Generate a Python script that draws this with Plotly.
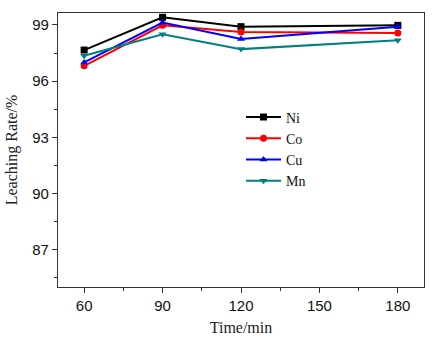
import plotly.graph_objects as go

time_min = [60, 90, 120, 180]
ni = [97.66, 99.41, 98.91, 98.98]
co = [96.82, 98.98, 98.62, 98.57]
cu = [97.00, 99.13, 98.25, 98.91]
mn = [97.36, 98.50, 97.71, 98.18]

series = [
    ("Ni", ni, "#000000", "square"),
    ("Co", co, "#ff0000", "circle"),
    ("Cu", cu, "#0000ff", "triangle-up"),
    ("Mn", mn, "#008080", "triangle-down"),
]

SANS = "Arial"
SERIF = "Times New Roman"

fig = go.Figure()
for name, vals, color, sym in series:
    fig.add_trace(go.Scatter(
        x=time_min, y=vals, name=name, mode="lines+markers",
        line=dict(color=color, width=2),
        marker=dict(symbol=sym, size=7, color=color),
    ))

axis_common = dict(
    showline=True, linecolor="#333333", linewidth=1.2, mirror=True,
    ticks="outside", ticklen=5, tickcolor="#333333", showgrid=False, zeroline=False,
    tickfont=dict(family=SANS, size=15, color="#111111"),
    minor=dict(ticks="outside", ticklen=3, tickcolor="#333333"),
)

fig.update_xaxes(range=[50, 190], tickvals=[60, 90, 120, 150, 180],
                 minor_dtick=15,
                 title=dict(text="Time/min", font=dict(family=SERIF, size=16, color="#222222"), standoff=8),
                 **axis_common)
fig.update_yaxes(range=[85, 99.64], tickvals=[87, 90, 93, 96, 99],
                 minor_dtick=1.5, minor_tick0=85.5,
                 title=dict(text="Leaching Rate/%", font=dict(family=SERIF, size=16, color="#222222"), standoff=10),
                 **axis_common)

fig.update_layout(
    width=446, height=345,
    margin=dict(l=58, r=22, t=13, b=58),
    plot_bgcolor="white", paper_bgcolor="white",
    legend=dict(x=0.50, y=0.677, xanchor="left", yanchor="top",
                font=dict(family=SERIF, size=14, color="#111111"),
                bgcolor="rgba(0,0,0,0)", itemwidth=35, tracegroupgap=0),
    showlegend=True,
)

fig.write_html("out.html")
